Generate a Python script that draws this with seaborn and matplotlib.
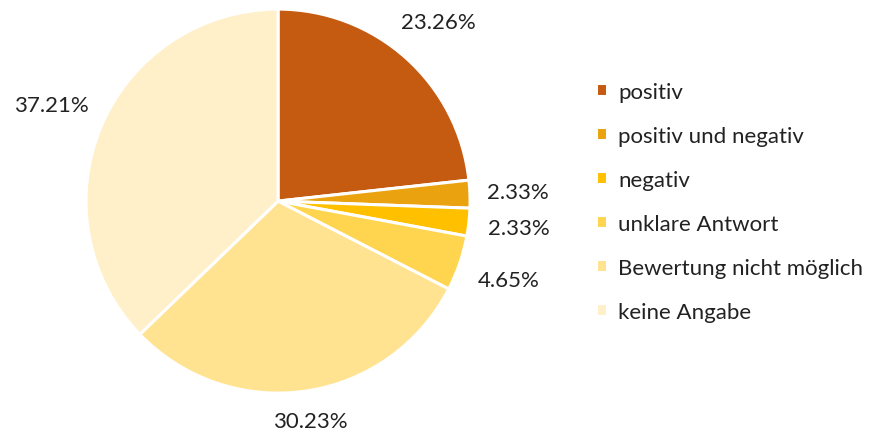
import matplotlib
matplotlib.use("Agg")
import numpy as np
import matplotlib.pyplot as plt
import seaborn as sns

# Daten
categories = ["positiv", "positiv und negativ", "negativ", "unklare Antwort",
              "Bewertung nicht möglich", "keine Angabe"]
shares = [23.26, 2.33, 2.33, 4.65, 30.23, 37.21]
colors = ["#C55A11", "#EAA30E", "#FFC000", "#FFD54F", "#FFE391", "#FFF0C9"]
# Abstand der Beschriftung vom Mittelpunkt (in Radien)
label_dist = [1.25, 1.25, 1.26, 1.27, 1.16, 1.28]

sns.set_theme(style="white")
plt.rcParams["font.family"] = ["Lato", "DejaVu Sans"]

fig = plt.figure(figsize=(8.96, 4.35), dpi=100)
ax = fig.add_axes([0.096, 0.094, 0.4286, 0.8828])

wedges, texts = ax.pie(
    shares,
    colors=colors,
    startangle=90,
    counterclock=False,
    wedgeprops=dict(edgecolor="white", linewidth=2.2),
)
ax.set_xlim(-1, 1)
ax.set_ylim(-1, 1)
ax.set_aspect("equal")

for w, v, d in zip(wedges, shares, label_dist):
    ang = np.deg2rad((w.theta1 + w.theta2) / 2)
    ax.text(d * np.cos(ang), d * np.sin(ang), f"{v:.2f}%", ha="center",
            va="center", fontsize=16, color="#222222", clip_on=False)

fig.legend(wedges, categories, loc="upper left", bbox_to_anchor=(0.665, 0.81),
           frameon=False, prop=dict(size=16),
           handlelength=0.5, handleheight=0.5, handletextpad=0.5,
           labelspacing=1.08, borderpad=0, borderaxespad=0,
           labelcolor="#222222")

fig.savefig("out.png", dpi=100)
